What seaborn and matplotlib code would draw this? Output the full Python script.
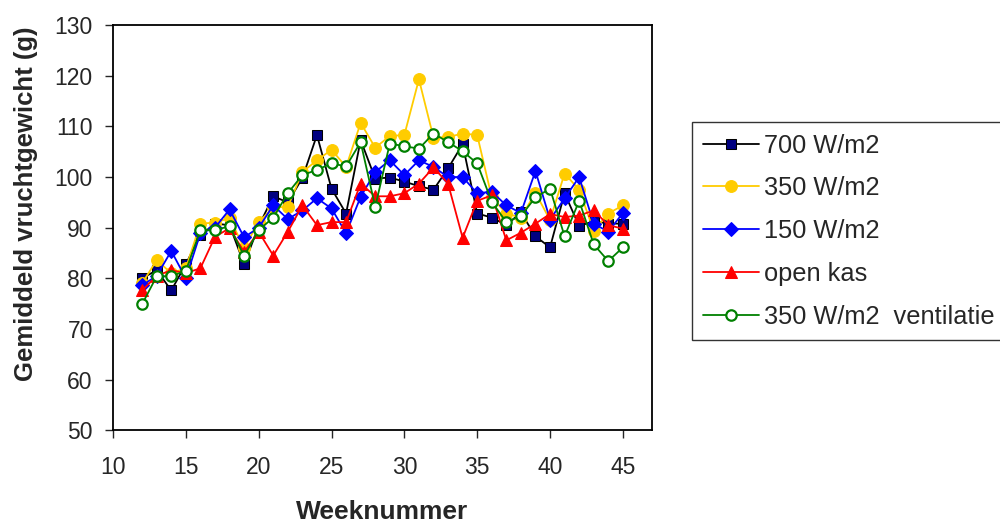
import pandas as pd
import matplotlib
matplotlib.use("Agg")
import matplotlib.pyplot as plt
import seaborn as sns

# data
weeks = list(range(12, 46))

w700 = [80, 81.6, 77.6, 82.8, 88.5, 90.8, 90.5, 82.8, 90.3, 96.2, 95, 99.8,
        108.3, 97.7, 92.8, 107.3, 99.7, 99.9, 99.1, 98.2, 97.5, 101.7, 106.5,
        92.8, 92, 90.5, 93, 88.3, 86.1, 96.8, 90.3, 91.3, 90.8, 90.8]
w350 = [79, 83.6, 81, 82, 90.8, 91, 91.9, 86, 91.1, 94, 94.1, 101,
        103.3, 105.4, 102, 110.7, 105.8, 108.1, 108.3, 119.3, 107.8, 107.9, 108.6,
        108.3, 96, 92.8, 92, 96.9, 91.5, 100.7, 97.5, 89.4, 92.8, 94.4]
w150 = [78.6, 80.5, 85.4, 80, 88.9, 90, 93.6, 88.1, 90, 94.4, 91.7, 93.4,
        95.8, 93.8, 88.9, 96.1, 101, 103.3, 100.4, 103.3, 102, 100, 100,
        96.8, 97.1, 94.4, 92.9, 101.2, 91.6, 95.8, 100, 90.8, 89.2, 92.9]
open_kas = [77.6, 80.5, 81.6, 81, 82, 88.2, 89.9, 85.2, 89.2, 84.5, 89.2, 94.4,
            90.5, 91.1, 91.1, 98.7, 96.2, 96.2, 96.8, 98.7, 101.9, 98.7, 88,
            95.3, 96.4, 87.5, 89, 90.8, 92.7, 92.1, 92.4, 93.4, 90.5, 89.8]
w350_vent = [74.9, 80.4, 80.4, 81.5, 89.5, 89.5, 90.3, 84.4, 89.5, 92, 96.8, 100.4,
             101.4, 102.7, 102.1, 106.9, 94.1, 106.6, 106.1, 105.6, 108.6, 106.9, 105.1,
             102.7, 95.1, 91.1, 92.3, 96, 97.7, 88.3, 95.3, 86.7, 83.4, 86.1]

labels = ["700 W/m2", "350 W/m2", "150 W/m2", "open kas", "350 W/m2  ventilatie"]
series = [w700, w350, w150, open_kas, w350_vent]

df = pd.DataFrame({"week": weeks})
for lab, vals in zip(labels, series):
    df[lab] = vals

sns.set_style("white")
plt.rcParams["font.family"] = ["Liberation Sans", "DejaVu Sans"]

fig = plt.figure(figsize=(10, 5.24), dpi=100)
ax = fig.add_axes([0.113, 0.179, 0.539, 0.773])

styles = [
    dict(color="black", marker="s", markerfacecolor="#000080", markeredgecolor="black", markersize=7.5),
    dict(color="#FFCC00", marker="o", markerfacecolor="#FFCC00", markeredgecolor="#FFCC00", markersize=8.5),
    dict(color="#0000FF", marker="D", markerfacecolor="#0000FF", markeredgecolor="#0000FF", markersize=7),
    dict(color="#FF0000", marker="^", markerfacecolor="#FF0000", markeredgecolor="#FF0000", markersize=9),
    dict(color="#008000", marker="o", markerfacecolor="white", markeredgecolor="#008000",
         markersize=7.5, markeredgewidth=1.6),
]

for lab, st in zip(labels, styles):
    sns.lineplot(data=df, x="week", y=lab, ax=ax, label=lab, linewidth=1.3, **st)

ax.set_xlim(10, 47)
ax.set_ylim(50, 130)
ax.set_xticks(range(10, 46, 5))
ax.set_yticks(range(50, 131, 10))
ax.tick_params(axis="both", direction="out", length=5.5, width=1, labelsize=16.5,
               bottom=True, left=True)
ax.tick_params(axis="x", pad=13)
ax.tick_params(axis="y", pad=9)
for sp in ax.spines.values():
    sp.set_color("black")
    sp.set_linewidth(1.3)

ax.set_xlabel("Weeknummer", fontsize=19, fontweight="bold", va="center")
ax.xaxis.set_label_coords(0.5, -0.2025)
ax.set_ylabel("Gemiddeld vruchtgewicht (g)", fontsize=18.5, fontweight="bold", va="center")
ax.yaxis.set_label_coords(-0.162, 0.56)

leg = ax.legend(loc="upper left", bbox_to_anchor=(0.692, 0.767), bbox_transform=fig.transFigure,
                fontsize=18.3, frameon=True, fancybox=False, edgecolor="black",
                handlelength=2.2, labelspacing=0.74, borderpad=0.45, handletextpad=0.2,
                borderaxespad=0)
leg.get_frame().set_linewidth(1.0)

fig.savefig("out.png", dpi=100)
